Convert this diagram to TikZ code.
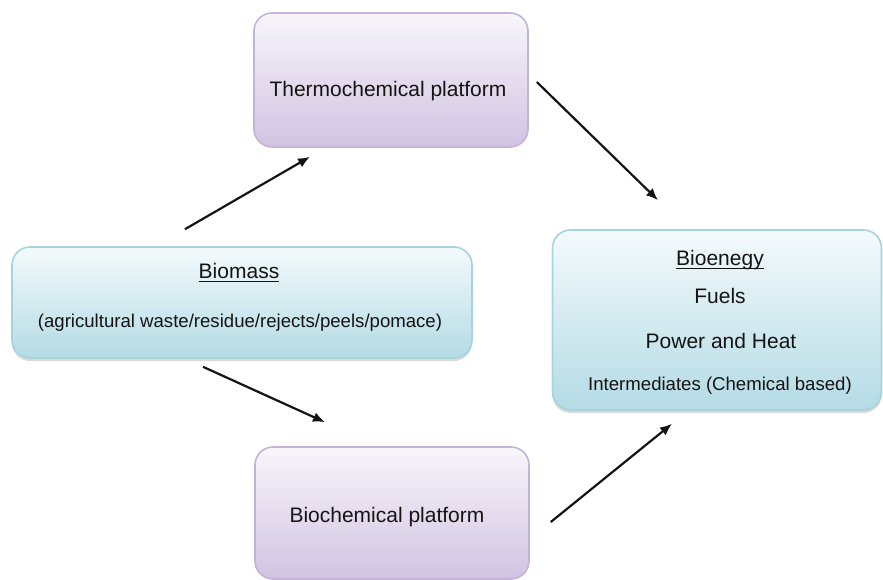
\documentclass[tikz,border=0pt]{standalone}
\usepackage{fontspec}
\setmainfont{Liberation Sans}
\usetikzlibrary{arrows.meta,shadows}

\definecolor{lilacline}{HTML}{C3B4D7}
\definecolor{lilactop}{HTML}{F8F6FB}
\definecolor{lilacbot}{HTML}{D1C3E1}
\definecolor{aqualine}{HTML}{A6D4DE}
\definecolor{aquatop}{HTML}{F4FAFC}
\definecolor{aquabot}{HTML}{B4DBE5}

% underline at a fixed depth, through the descenders
\newcommand{\ulined}[1]{\setbox0\hbox{#1}\rlap{\rule[-4pt]{\wd0}{1.4pt}}\box0}

\tikzset{
  platform/.style={draw=lilacline, line width=1.6pt, rounded corners=18pt,
    top color=lilactop, bottom color=lilacbot,
    minimum width=274pt, minimum height=134pt},
  pool/.style={draw=aqualine, line width=1.6pt, rounded corners=18pt,
    top color=aquatop, bottom color=aquabot,
    drop shadow={shadow xshift=0pt, shadow yshift=-3pt, opacity=0.25, fill=black!60}},
  flow/.style={-{Latex[length=12pt,width=10pt]}, line width=2.2pt, draw=black!92},
  big/.style={font=\fontsize{21}{25}\selectfont, text=black!92},
  small/.style={font=\fontsize{18.6}{22}\selectfont, text=black!92},
}

\begin{document}
\begin{tikzpicture}[x=1pt,y=-1pt]
\useasboundingbox (0,0) rectangle (883,580);

% boxes
\node[platform] (thermo) at (391,80) {};
\node[platform, minimum height=132pt] (biochem) at (392,513) {};
\node[pool, minimum width=460pt, minimum height=111pt] (biomass) at (242,302.5) {};
\node[pool, minimum width=329pt, minimum height=180pt] (bioenergy) at (717,320) {};

% texts
\node[big, anchor=base] (thermo-txt) at (388,97) {Thermochemical platform};
\node[big, anchor=base] (biochem-txt) at (387,522) {Biochemical platform};
\node[big, anchor=base] (biomass-head) at (239,278) {\ulined{Biomass}};
\node[small, anchor=base] (biomass-txt) at (240,327) {(agricultural waste/residue/rejects/peels/pomace)};
\node[big, anchor=base] (bioenergy-head) at (720,265) {\ulined{Bioenegy}};
\node[big, anchor=base] (fuels) at (720,303) {Fuels};
\node[big, anchor=base] (power) at (721,348) {Power and Heat};
\node[small, anchor=base] (inter) at (720,390) {Intermediates (Chemical based)};

% arrows
\draw[flow] ([xshift=-57pt,yshift=17pt]biomass.north) -- ([xshift=-81pt,yshift=-9pt]thermo.south);
\draw[flow] ([xshift=8pt,yshift=-2pt]thermo.east) -- ([xshift=-59pt,yshift=29pt]bioenergy.north);
\draw[flow] ([xshift=-39pt,yshift=-8pt]biomass.south) -- ([xshift=-67pt,yshift=24pt]biochem.north);
\draw[flow] ([xshift=21pt,yshift=-9pt]biochem.east) -- ([xshift=-45pt,yshift=-13pt]bioenergy.south);
\end{tikzpicture}
\end{document}
